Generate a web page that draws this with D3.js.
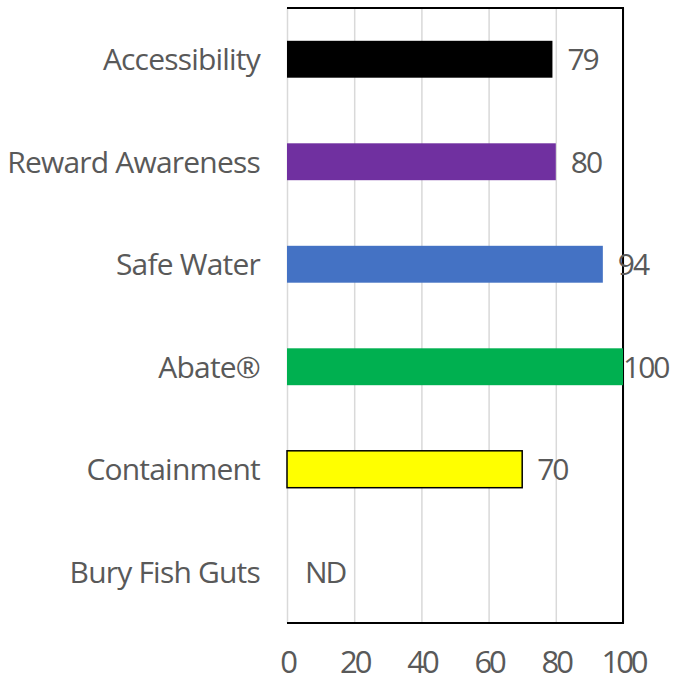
<!DOCTYPE html>
<html>
<head>
<meta charset="utf-8">
<script src="https://cdn.jsdelivr.net/npm/d3@7"></script>
<style>
  body { margin: 0; background: #fff; }
  svg text { font-family: "Open Sans", sans-serif; fill: #595959; }
</style>
</head>
<body>
<svg id="chart"></svg>
<script>
// chart data
const categories = ["Accessibility", "Reward Awareness", "Safe Water", "Abate®", "Containment", "Bury Fish Guts"];
const values = [79, 80, 94, 100, 70, null];
const barColors = ["#000000", "#7030A0", "#4472C4", "#00B050", "#FFFF00", "none"];
const xTicks = [0, 20, 40, 60, 80, 100];

var width = 679, height = 685;
var margin = { top: 8, right: 56, bottom: 62, left: 287 };
var innerW = width - margin.left - margin.right,
    innerH = height - margin.top - margin.bottom;

var svg = d3.select("#chart")
    .attr("width", width)
    .attr("height", height);

var g = svg.append("g")
    .attr("transform", "translate(" + margin.left + "," + margin.top + ")");

var x = d3.scaleLinear().domain([0, 100]).range([0, innerW]);
var y = d3.scaleBand().domain(categories).range([0, innerH]).paddingInner(0.64).paddingOuter(0.32);

// gridlines
g.append("g")
    .attr("class", "grid")
    .call(d3.axisBottom(x).tickValues(xTicks).tickSize(innerH).tickFormat(""))
    .call(s => s.select(".domain").remove())
    .selectAll("line")
    .attr("stroke", "#d9d9d9")
    .attr("stroke-width", 1.5);

// plot border (top, right, bottom)
g.append("path")
    .attr("d", "M0,0H" + innerW + "V" + innerH + "H0")
    .attr("fill", "none")
    .attr("stroke", "#000")
    .attr("stroke-width", 2);

var rows = categories.map((c, i) => ({ cat: c, val: values[i], color: barColors[i] }));

// bars
g.selectAll("rect.bar")
    .data(rows.filter(d => d.val != null))
    .enter()
    .append("rect")
    .attr("class", "bar")
    .attr("x", x(0))
    .attr("y", d => y(d.cat))
    .attr("width", d => x(d.val) - x(0))
    .attr("height", y.bandwidth())
    .attr("fill", d => d.color)
    .attr("stroke", d => d.color === "#FFFF00" ? "#000" : "none")
    .attr("stroke-width", 1.5);

// value labels
g.selectAll("text.val")
    .data(rows)
    .enter()
    .append("text")
    .attr("class", "val")
    .attr("x", d => d.val == null ? 18 : Math.min(x(d.val) + 15, innerW))
    .attr("y", d => y(d.cat) + y.bandwidth() / 2)
    .attr("dy", "0.36em")
    .style("font-size", "30px")
    .style("letter-spacing", "-2px")
    .text(d => d.val == null ? "ND" : d.val);

// category labels
g.selectAll("text.cat")
    .data(categories)
    .enter()
    .append("text")
    .attr("class", "cat")
    .attr("x", -27)
    .attr("y", d => y(d) + y.bandwidth() / 2)
    .attr("dy", "0.36em")
    .attr("text-anchor", "end")
    .style("font-size", "30px")
    .style("letter-spacing", "-0.8px")
    .text(d => d);

// x axis labels
var xAxis = g.append("g")
    .attr("transform", "translate(0," + innerH + ")")
    .call(d3.axisBottom(x).tickValues(xTicks).tickSize(0).tickPadding(28));
xAxis.select(".domain").remove();
xAxis.selectAll("text")
    .style("font-family", "'Open Sans', sans-serif")
    .style("font-size", "31px")
    .style("letter-spacing", "-3px")
    .attr("fill", "#595959");
</script>
</body>
</html>
